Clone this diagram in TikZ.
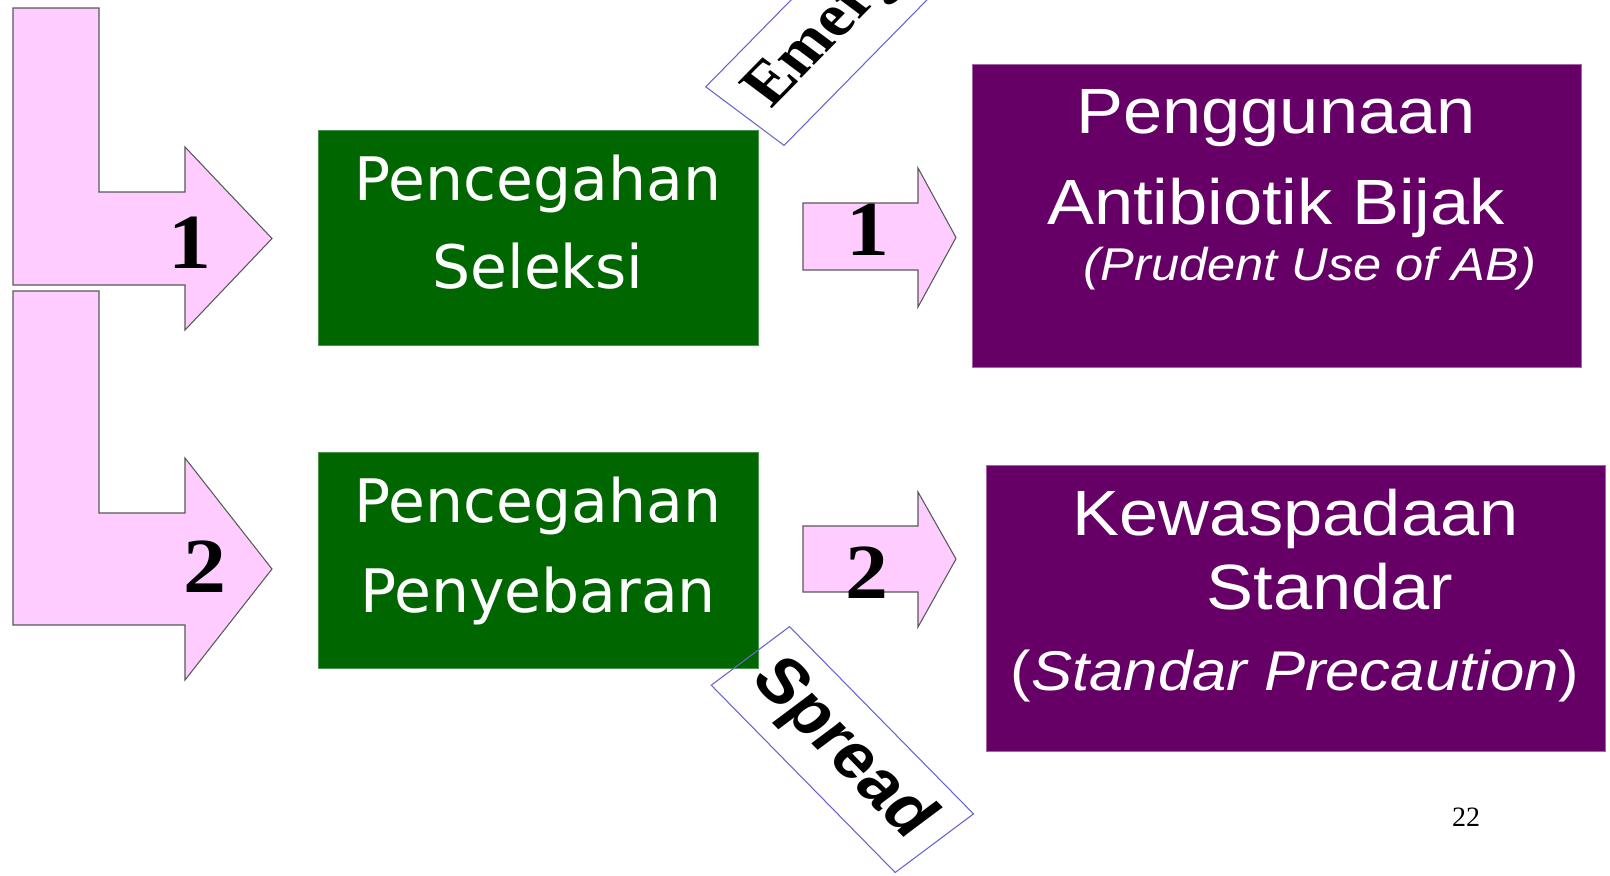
\documentclass[tikz,border=0pt]{standalone}
\usepackage{fontspec}
\newfontfamily\verdfont{DejaVu Sans}
\newfontfamily\arialfont[FakeStretch=1.1]{Liberation Sans}
\newfontfamily\arialplain{Liberation Sans}
\newfontfamily\timesfont[FakeStretch=1.1]{Liberation Serif}
\newfontfamily\timesplain{Liberation Serif}

\definecolor{pinkfill}{HTML}{FFCCFF}
\definecolor{leafgreen}{HTML}{006600}
\definecolor{plum}{HTML}{660066}
\definecolor{tagblue}{HTML}{6666CC}

\begin{document}
\begin{tikzpicture}[x=0.75pt,y=-0.75pt,
  blockarrow/.style={fill=pinkfill, draw=black!65, line width=0.8pt, line join=miter},
  greenbox/.style={fill=leafgreen, draw=leafgreen!70!white, line width=0.6pt, inner sep=0pt},
  plumbox/.style={fill=plum, draw=plum!60!white, line width=0.6pt, inner sep=0pt},
  greentext/.style={text=white, font=\verdfont\fontsize{45}{54}\selectfont, anchor=base, inner sep=0pt},
  plumtext/.style={text=white, font=\arialfont\fontsize{48}{58}\selectfont, anchor=base, inner sep=0pt},
  numtext/.style={font=\timesfont\bfseries\fontsize{58.5}{70}\selectfont, anchor=base, inner sep=0pt},
  tagbox/.style={draw=tagblue, line width=0.8pt, transform shape, anchor=west,
                 minimum height=67.5pt, inner ysep=0pt}]

\useasboundingbox (0,0) rectangle (1610,875);
\fill[white] (0,0) rectangle (1610,875);
\clip (0,0) rectangle (1610,875);

% L-shaped block arrows on the left
\draw[blockarrow] (13,8) -- (99,8) -- (99,192) -- (185,192) -- (185,147)
  -- (272,238.5) -- (185,330) -- (185,285) -- (13,285) -- cycle;
\draw[blockarrow] (13,291) -- (99,291) -- (99,513) -- (185,513) -- (185,458)
  -- (272,569) -- (185,680) -- (185,625) -- (13,625) -- cycle;

% short block arrows in the middle
\draw[blockarrow] (803,203) -- (918,203) -- (918,168) -- (956,237.5)
  -- (918,307) -- (918,270) -- (803,270) -- cycle;
\draw[blockarrow] (803,526) -- (918,526) -- (918,492) -- (956,559)
  -- (918,627) -- (918,592) -- (803,592) -- cycle;

% green boxes
\node[greenbox, minimum width=330pt, minimum height=161.25pt] (selbox) at (538,237.5) {};
\node[greenbox, minimum width=330pt, minimum height=162pt] (sprbox) at (538,560) {};
\node[greentext] (sel1) at (538,200) {Pencegahan};
\node[greentext] (sel2) at (538,288) {Seleksi};
\node[greentext] (spr1) at (538,522) {Pencegahan};
\node[greentext] (spr2) at (538,612) {Penyebaran};

% purple boxes
\node[plumbox, minimum width=456.75pt, minimum height=227.25pt] (abbox) at (1276.5,215.5) {};
\node[plumbox, minimum width=464.25pt, minimum height=214.5pt] (kwbox) at (1295.5,608) {};
\node[plumtext] (pu1) at (1276,133) {Penggunaan};
\node[plumtext] (pu2) at (1276,224) {Antibiotik Bijak};
\node[plumtext, font=\arialfont\itshape\fontsize{34.5}{40}\selectfont] (pu3) at (1310,280) {(Prudent Use of AB)};
\node[plumtext] (kw1) at (1295.5,535) {Kewaspadaan};
\node[plumtext] (kw2) at (1330,609) {Standar};
\node[plumtext, font=\arialfont\fontsize{42}{50}\selectfont] (kw3) at (1295,690) {(\textit{Standar Precaution})};

% slanted tags
\begin{scope}[shift={(744.5,116.5)}, xscale=1.146, rotate=49.4]
  \node[tagbox, text width=195pt, align=left, inner xsep=15pt,
        font=\timesplain\bfseries\fontsize{45}{52}\selectfont] (emerg) at (0,0) {Emerg};
\end{scope}
\begin{scope}[shift={(750,655.5)}, xscale=1.146, rotate=-49.4]
  \node[tagbox, minimum width=185pt, inner xsep=6pt,
        font=\arialplain\bfseries\fontsize{47}{56}\selectfont] (spread) at (0,0) {Spread};
\end{scope}

% numbers on the arrows
\node[numtext] (n1) at (190,268) {1};
\node[numtext] (n2) at (205,592) {2};
\node[numtext] (m1) at (868,255) {1};
\node[numtext] (m2) at (867,598) {2};

% page number
\node[font=\timesplain\fontsize{21}{25}\selectfont, anchor=base, inner sep=0pt] (page) at (1466,826) {22};
\end{tikzpicture}
\end{document}
